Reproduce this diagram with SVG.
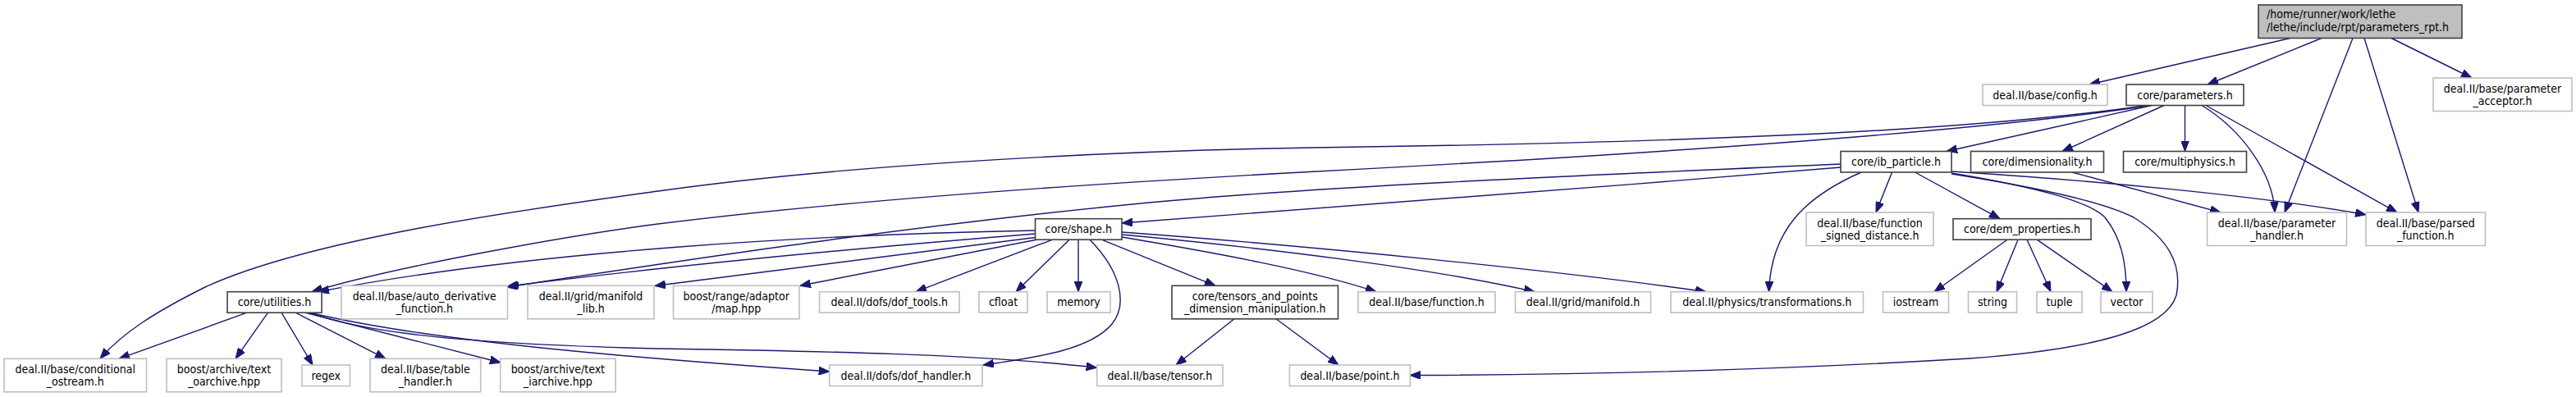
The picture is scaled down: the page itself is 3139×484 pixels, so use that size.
<svg xmlns="http://www.w3.org/2000/svg" width="3139" height="484" viewBox="0 0 3139 484">
<style>
rect{fill:#ffffff;stroke-width:1.6}
.doc rect{stroke:#404040}
.ext rect{stroke:#bfbfbf}
.root rect{fill:#bfbfbf;stroke:#404040}
text{font-family:'DejaVu Sans Condensed','DejaVu Sans',sans-serif;font-stretch:condensed;font-size:14px;fill:#000;text-anchor:middle}
.root text{text-anchor:start}
#edges path{fill:none;stroke:#191970;stroke-width:1.4;marker-end:url(#ah)}
</style>
<defs>
<marker id="ah" viewBox="0 0 13 10" refX="13" refY="5" markerWidth="13" markerHeight="10" markerUnits="userSpaceOnUse" orient="auto">
<path d="M0,0 L13,5 L0,10 z" fill="#191970" stroke="#191970" stroke-width="1"/>
</marker>
</defs>
<rect x="0" y="0" width="3139" height="484" style="fill:#fff;stroke:none"/>
<g id="edges">
<path d="M2791,46.5 L2546,103"/>
<path d="M2829,46.5 L2690,103"/>
<path d="M2867,46.5 L2784,259"/>
<path d="M2881,46.5 L2947,259"/>
<path d="M2914,46.5 L3012,95"/>
<path d="M2622,128.5 L2372,184.5"/>
<path d="M2637,128.5 L2513,184.5"/>
<path d="M2662.5,128.5 L2662.5,184.5"/>
<path d="M2683,128.5 C2730,157 2770,210 2772,259"/>
<path d="M2688,128.5 L2921,259"/>
<path d="M2617,128.5 C2450,152 2200,172 1600,180 C1300,185 1000,205 800,233.3 C650,254 380,290 250,350 C190,380 150,405 122,437.3"/>
<path d="M2620,128.5 C2450,155 2100,183 1600,209.3 C1250,228 1000,248 800,273.3 C700,286 480,325 380,355.7"/>
<path d="M2243,200 C1900,215 1600,228 1400,247 C1100,276 850,315 617,350"/>
<path d="M2243,204 C1950,228 1650,252 1367,272"/>
<path d="M2305.5,210 L2286,259"/>
<path d="M2333.5,210 L2437,266.7"/>
<path d="M2268,210 C2200,240 2158,280 2155.5,355.7"/>
<path d="M2378,209 C2550,220 2750,238 2883,261.7"/>
<path d="M2378,211 C2480,228 2545,245 2565,265 C2585,290 2591,320 2591,355.7"/>
<path d="M2378,212 C2480,228 2560,245 2600,265 C2640,290 2660,320 2652,360 C2640,400 2560,425 2400,437 C2150,452 1900,457 1718.4,457.5"/>
<path d="M2446,292.3 L2357,355.7"/>
<path d="M2459,292.3 L2433,355.7"/>
<path d="M2470,292.3 L2499,355.7"/>
<path d="M2482.5,292.3 L2574,355.7"/>
<path d="M2525,210 L2706,259"/>
<path d="M1261.5,281 C1000,286 650,305 388,355.7"/>
<path d="M1261.5,285 C1100,298 850,320 619,349"/>
<path d="M1261.5,289.5 L798,348.5"/>
<path d="M1263,292.3 L975,348.3"/>
<path d="M1282,292.3 L1116,355.7"/>
<path d="M1303,292.3 L1238,355.7"/>
<path d="M1314,292.3 L1314,355.7"/>
<path d="M1328,292.3 C1365,330 1375,370 1355,395 C1330,425 1270,435 1198,445"/>
<path d="M1343,292.3 L1481,348.3"/>
<path d="M1367,289 C1480,308 1600,330 1677,355.7"/>
<path d="M1367,286 C1550,303 1750,328 1870,355.7"/>
<path d="M1367,283 C1600,300 1900,330 2079,355.7"/>
<path d="M1504,388.8 L1433,445"/>
<path d="M1555,388.8 L1631,445"/>
<path d="M301,381.2 L145,437.3"/>
<path d="M326.5,381.2 L287,437.3"/>
<path d="M343,381.2 L381,445"/>
<path d="M360,381.2 L470,437.3"/>
<path d="M372.4,381.2 L610,442"/>
<path d="M376,381.2 C430,400 520,418 800,425 C1000,428 1200,432 1336.7,448.3"/>
<path d="M378,381.2 C520,415 750,435 1010.7,453"/>
</g>
<g id="n_root" class="root"><rect x="2752" y="6" width="248" height="40.5"/><text x="2762" y="22">/home/runner/work/lethe</text><text x="2762" y="38">/lethe/include/rpt/parameters_rpt.h</text></g>
<g id="n_config" class="ext"><rect x="2416" y="103" width="152" height="25.5"/><text x="2492" y="120.75">deal.II/base/config.h</text></g>
<g id="n_parameters" class="doc"><rect x="2591" y="103" width="143" height="25.5"/><text x="2662.5" y="120.75">core/parameters.h</text></g>
<g id="n_paramacceptor" class="ext"><rect x="2965" y="95" width="169" height="40.5"/><text x="3049.5" y="112.75">deal.II/base/parameter</text><text x="3049.5" y="127.75">_acceptor.h</text></g>
<g id="n_ib" class="doc"><rect x="2243" y="184.5" width="135" height="25.5"/><text x="2310.5" y="202.25">core/ib_particle.h</text></g>
<g id="n_dim" class="doc"><rect x="2401.5" y="184.5" width="162" height="25.5"/><text x="2482.5" y="202.25">core/dimensionality.h</text></g>
<g id="n_multi" class="doc"><rect x="2587.5" y="184.5" width="150" height="25.5"/><text x="2662.5" y="202.25">core/multiphysics.h</text></g>
<g id="n_fsd" class="ext"><rect x="2201" y="259" width="155" height="40.5"/><text x="2278.5" y="276.75">deal.II/base/function</text><text x="2278.5" y="291.75">_signed_distance.h</text></g>
<g id="n_dem" class="doc"><rect x="2380" y="266.7" width="168" height="25.5"/><text x="2464" y="284.45">core/dem_properties.h</text></g>
<g id="n_phandler" class="ext"><rect x="2689.5" y="259" width="170" height="40.5"/><text x="2774.5" y="276.75">deal.II/base/parameter</text><text x="2774.5" y="291.75">_handler.h</text></g>
<g id="n_parsed" class="ext"><rect x="2883" y="259" width="145.5" height="40.5"/><text x="2955.75" y="276.75">deal.II/base/parsed</text><text x="2955.75" y="291.75">_function.h</text></g>
<g id="n_shape" class="doc"><rect x="1261.5" y="266.7" width="105.5" height="25.5"/><text x="1314.25" y="284.45">core/shape.h</text></g>
<g id="n_utilities" class="doc"><rect x="277" y="355.7" width="115" height="25.5"/><text x="334.5" y="373.45">core/utilities.h</text></g>
<g id="n_autoder" class="ext"><rect x="416" y="348.3" width="202.5" height="40.5"/><text x="517.25" y="366.05">deal.II/base/auto_derivative</text><text x="517.25" y="381.05">_function.h</text></g>
<g id="n_manifoldlib" class="ext"><rect x="643" y="348.3" width="154" height="40.5"/><text x="720" y="366.05">deal.II/grid/manifold</text><text x="720" y="381.05">_lib.h</text></g>
<g id="n_map" class="ext"><rect x="820.5" y="348.3" width="153.5" height="40.5"/><text x="897.25" y="366.05">boost/range/adaptor</text><text x="897.25" y="381.05">/map.hpp</text></g>
<g id="n_doftools" class="ext"><rect x="998.5" y="355.7" width="170.5" height="25.5"/><text x="1083.75" y="373.45">deal.II/dofs/dof_tools.h</text></g>
<g id="n_cfloat" class="ext"><rect x="1193" y="355.7" width="59" height="25.5"/><text x="1222.5" y="373.45">cfloat</text></g>
<g id="n_memory" class="ext"><rect x="1276" y="355.7" width="77" height="25.5"/><text x="1314.5" y="373.45">memory</text></g>
<g id="n_tensors" class="doc"><rect x="1428" y="348.3" width="202.5" height="40.5"/><text x="1529.25" y="366.05">core/tensors_and_points</text><text x="1529.25" y="381.05">_dimension_manipulation.h</text></g>
<g id="n_function" class="ext"><rect x="1655" y="355.7" width="167" height="25.5"/><text x="1738.5" y="373.45">deal.II/base/function.h</text></g>
<g id="n_manifold" class="ext"><rect x="1846.5" y="355.7" width="165" height="25.5"/><text x="1929" y="373.45">deal.II/grid/manifold.h</text></g>
<g id="n_transformations" class="ext"><rect x="2036" y="355.7" width="234.5" height="25.5"/><text x="2153.25" y="373.45">deal.II/physics/transformations.h</text></g>
<g id="n_iostream" class="ext"><rect x="2294.5" y="355.7" width="80" height="25.5"/><text x="2334.5" y="373.45">iostream</text></g>
<g id="n_string" class="ext"><rect x="2398.5" y="355.7" width="59" height="25.5"/><text x="2428" y="373.45">string</text></g>
<g id="n_tuple" class="ext"><rect x="2482" y="355.7" width="55" height="25.5"/><text x="2509.5" y="373.45">tuple</text></g>
<g id="n_vector" class="ext"><rect x="2560" y="355.7" width="63" height="25.5"/><text x="2591.5" y="373.45">vector</text></g>
<g id="n_condostream" class="ext"><rect x="5" y="437.3" width="173.5" height="40.5"/><text x="91.75" y="455.05">deal.II/base/conditional</text><text x="91.75" y="470.05">_ostream.h</text></g>
<g id="n_oarchive" class="ext"><rect x="203" y="437.3" width="140" height="40.5"/><text x="273" y="455.05">boost/archive/text</text><text x="273" y="470.05">_oarchive.hpp</text></g>
<g id="n_regex" class="ext"><rect x="368" y="445" width="58.5" height="25.5"/><text x="397.25" y="462.75">regex</text></g>
<g id="n_tablehandler" class="ext"><rect x="451" y="437.3" width="134.7" height="40.5"/><text x="518.35" y="455.05">deal.II/base/table</text><text x="518.35" y="470.05">_handler.h</text></g>
<g id="n_iarchive" class="ext"><rect x="609.7" y="437.3" width="140.3" height="40.5"/><text x="679.85" y="455.05">boost/archive/text</text><text x="679.85" y="470.05">_iarchive.hpp</text></g>
<g id="n_dofhandler" class="ext"><rect x="1010.7" y="445" width="186.3" height="25.5"/><text x="1103.85" y="462.75">deal.II/dofs/dof_handler.h</text></g>
<g id="n_tensor" class="ext"><rect x="1336.7" y="445" width="153.3" height="25.5"/><text x="1413.35" y="462.75">deal.II/base/tensor.h</text></g>
<g id="n_point" class="ext"><rect x="1571.4" y="445" width="147" height="25.5"/><text x="1644.9" y="462.75">deal.II/base/point.h</text></g>
</svg>
